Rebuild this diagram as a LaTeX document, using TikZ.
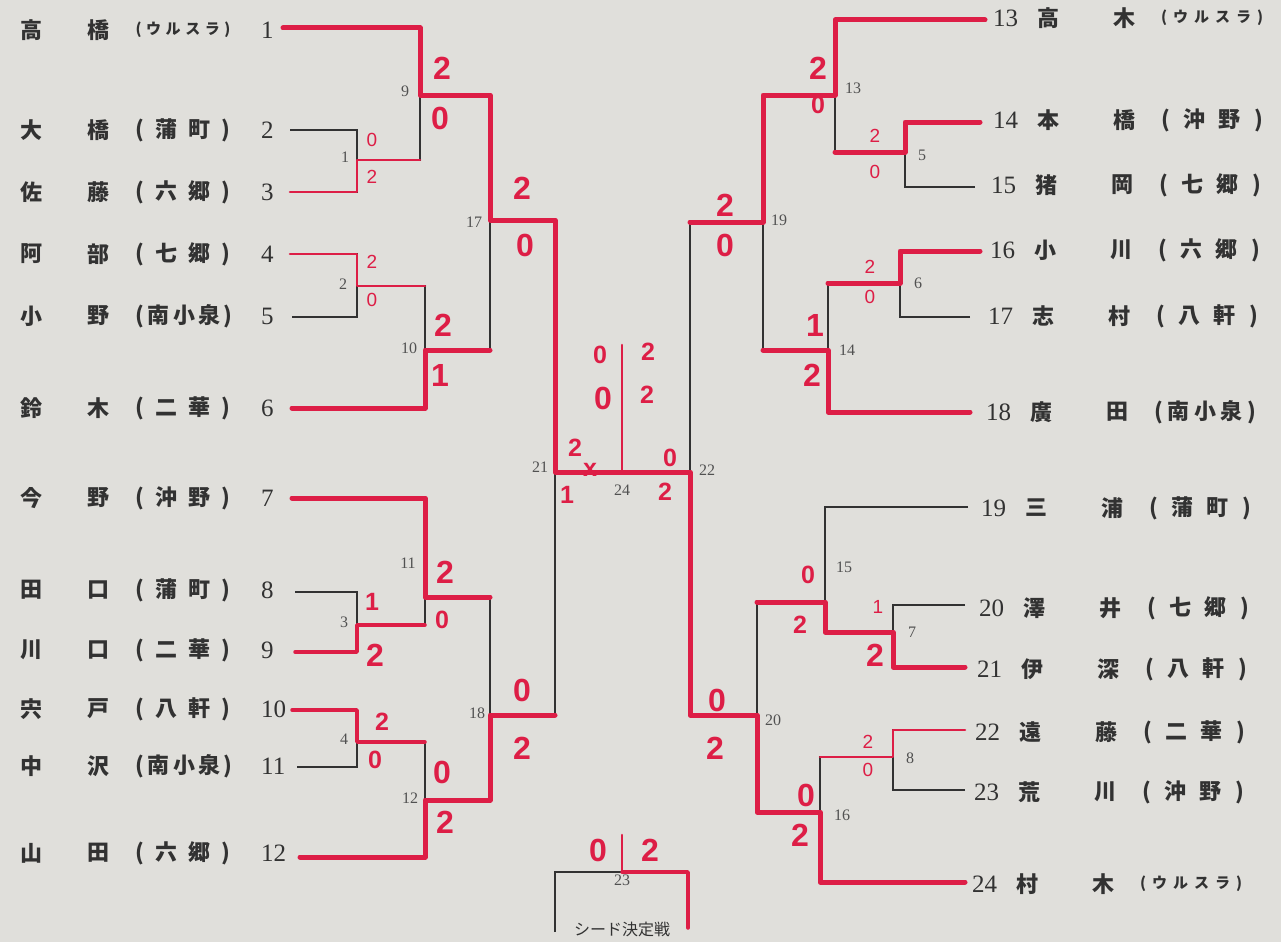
\documentclass[tikz,border=0pt]{standalone}
\usepackage{fontspec}
\setmainfont{Liberation Serif}
\setsansfont{Liberation Sans}
\newfontfamily\jp{Noto Sans CJK JP}
\usepackage{tikz}
\usetikzlibrary{calc}

\definecolor{paper}{RGB}{224,223,219}
\definecolor{ink}{RGB}{50,50,50}
\definecolor{pen}{RGB}{221,30,70}
\newcommand{\kata}{\fontsize{15}{16}\selectfont}

\begin{document}
\begin{tikzpicture}[x=1pt, y=-1pt,
  nm/.style={font=\jp\bfseries\fontsize{22}{24}\selectfont, text=ink, inner sep=0pt},
  pno/.style={font=\fontsize{25}{26}\selectfont, text=ink, inner sep=0pt, anchor=west},
  mno/.style={font=\fontsize{16}{17}\selectfont, text=ink!85, inner sep=0pt},
  wire/.style={draw=ink, line width=1.3pt},
  win/.style={draw=pen, line width=5pt, line join=round, line cap=round},
  wthin/.style={win, line width=2.6pt},
  scbig/.style={text=pen, font=\sffamily\bfseries\fontsize{32}{32}\selectfont, inner sep=0pt},
  scmid/.style={scbig, font=\sffamily\bfseries\fontsize{25}{25}\selectfont},
  scsml/.style={scbig, font=\sffamily\fontsize{19}{19}\selectfont}
]
\useasboundingbox (0,0) rectangle (1281,942);
\fill[paper] (0,0) rectangle (1281,942);

% player line ends
\foreach \n/\x/\y in {1/283/28, 2/290/130, 3/290/192, 4/290/254, 5/292/317, 6/292/408,
  7/292/498, 8/295/592, 9/295/652, 10/292/710, 11/297/767, 12/300/857,
  13/985/20, 14/980/122, 15/975/187, 16/980/251, 17/970/317, 18/970/412,
  19/968/507, 20/965/605, 21/965/667, 22/965/730, 23/965/790, 24/965/882}
  \coordinate (p\n) at (\x,\y);

% match junctions
\foreach \m/\x/\y in {1/357/160, 2/357/286, 3/357/625, 4/357/742, 9/420/95, 10/425/350,
  11/425/597, 12/425/800, 17/490/220, 18/490/715, 21/555/472,
  5/905/152, 6/900/283, 7/893/632, 8/893/757, 13/835/95, 14/828/350,
  15/825/602, 16/820/812, 19/763/222, 20/757/715, 22/690/472, 24/622/472, 23/622/872}
  \coordinate (m\m) at (\x,\y);
\coordinate (q1) at (555,932);
\coordinate (q2) at (688,928);
\coordinate (t24) at (622,345);
\coordinate (t23) at (622,835);

% printed bracket
\foreach \a/\b in {p1/m9, p2/m1, p3/m1, p4/m2, p5/m2, p6/m10, m1/m9, m2/m10, m9/m17,
  m10/m17, m17/m21, p7/m11, p8/m3, p9/m3, p10/m4, p11/m4, p12/m12, m3/m11, m4/m12,
  m11/m18, m12/m18, m18/m21, p13/m13, p14/m5, p15/m5, p16/m6, p17/m6, p18/m14,
  m5/m13, m6/m14, m13/m19, m14/m19, m19/m22, p19/m15, p20/m7, p21/m7, p22/m8,
  p23/m8, p24/m16, m7/m15, m8/m16, m15/m20, m16/m20, m20/m22}
  \draw[wire] (\a) -| (\b);
\draw[wire] (m21) -- (m22);
\draw[wire] (q1) |- (m23) -| (q2);

% winners in red pen
\draw[win] (p1) -| (m9) -| (m17) -| (m21) -- (m24);
\draw[wthin] (p3) -| (m1) -- (m1 -| m9);
\draw[wthin] (p4) -| (m2) -- (m2 -| m10);
\draw[win] (p6) -| (m10) -- (m10 -| m17);
\draw[win] (p7) -| (m11) -- (m11 -| m18);
\draw[win, line width=3.5pt] (p9) -| (m3) -- (m3 -| m11);
\draw[win, line width=3.5pt] (p10) -| (m4) -- (m4 -| m12);
\draw[win] (p12) -| (m12) -| (m18) -- (m18 -| m21);
\draw[win] (p13) -| (m13) -| (m19) -- (m19 -| m22);
\draw[win] (p14) -| (m5) -- (m5 -| m13);
\draw[win] (p16) -| (m6) -- (m6 -| m14);
\draw[win] (p18) -| (m14) -- (m14 -| m19);
\draw[win] (p21) -| (m7) -| (m15) -- (m15 -| m20);
\draw[wthin] (p22) -| (m8) -- (m8 -| m16);
\draw[win] (p24) -| (m16) -| (m20) -| (m22) -- (m24);
\draw[wthin] (m24) -- (t24);
\draw[wthin] (m23) -- (t23);
\draw[win, line width=3.5pt] (m23) -| (q2);

% left entries
\foreach \i/\y/\a/\b/\c in {
  1/30/高/橋/{\kata( ウ ル ス ラ )},
  2/130/大/橋/{( 蒲 町 )},
  3/192/佐/藤/{( 六 郷 )},
  4/254/阿/部/{( 七 郷 )},
  5/316/小/野/{( 南 小 泉 )},
  6/408/鈴/木/{( 二 華 )},
  7/498/今/野/{( 沖 野 )},
  8/590/田/口/{( 蒲 町 )},
  9/650/川/口/{( 二 華 )},
  10/709/宍/戸/{( 八 軒 )},
  11/766/中/沢/{( 南 小 泉 )},
  12/853/山/田/{( 六 郷 )}}
{
  \node[nm] (a\i) at (31,\y) {\a};
  \node[nm] (b\i) at (98,\y) {\b};
  \node[nm] (c\i) at (183,\y) {\makebox[95pt][s]{\c}};
  \node[pno] (k\i) at (261,\y) {\i};
}

% right entries
\foreach \i/\y/\dx/\a/\b/\c in {
  13/18/0/高/木/{\kata( ウ ル ス ラ )},
  14/120/0/本/橋/{( 沖 野 )},
  15/185/-2/猪/岡/{( 七 郷 )},
  16/250/-3/小/川/{( 六 郷 )},
  17/316/-5/志/村/{( 八 軒 )},
  18/412/-7/廣/田/{( 南 小 泉 )},
  19/508/-12/三/浦/{( 蒲 町 )},
  20/608/-14/澤/井/{( 七 郷 )},
  21/669/-16/伊/深/{( 八 軒 )},
  22/732/-18/遠/藤/{( 二 華 )},
  23/792/-19/荒/川/{( 沖 野 )},
  24/884/-21/村/木/{\kata( ウ ル ス ラ )}}
{
  \node[pno] (k\i) at ({993+\dx},\y) {\i};
  \node[nm] (a\i) at ({1048+\dx},\y) {\a};
  \node[nm] (b\i) at ({1124+\dx},\y) {\b};
  \node[nm] (c\i) at ({1212+\dx},\y) {\makebox[102pt][s]{\c}};
}

% match numbers
\foreach \m/\x/\y in {1/345/157, 2/343/284, 3/344/622, 4/344/739, 9/405/91, 10/409/348,
  11/408/563, 12/410/798, 17/474/222, 18/477/713, 21/540/467, 24/622/490, 22/707/470,
  13/853/88, 5/922/155, 19/779/220, 6/918/283, 14/847/350, 15/844/567, 7/912/632,
  20/773/720, 8/910/758, 16/842/815, 23/622/880}
  \node[mno] (l\m) at (\x,\y) {\m};

% scores
\foreach \x/\y/\t/\s [count=\k] in {442/68/2/scbig, 440/118/0/scbig, 372/140/0/scsml,
  372/177/2/scsml, 372/262/2/scsml, 372/300/0/scsml, 443/325/2/scbig, 440/375/1/scbig,
  522/188/2/scbig, 525/245/0/scbig, 372/602/1/scmid, 375/655/2/scbig, 445/572/2/scbig,
  442/620/0/scmid, 382/722/2/scmid, 375/760/0/scmid, 442/772/0/scbig, 445/822/2/scbig,
  522/690/0/scbig, 522/748/2/scbig, 575/448/2/scmid, 567/495/1/scmid, 590/470/x/scmid,
  600/355/0/scmid, 648/352/2/scmid, 603/398/0/scbig, 647/395/2/scmid, 670/458/0/scmid,
  665/492/2/scmid, 725/205/2/scbig, 725/245/0/scbig, 818/68/2/scbig, 818/105/0/scmid,
  875/136/2/scsml, 875/172/0/scsml, 870/267/2/scsml, 870/297/0/scsml, 815/325/1/scbig,
  812/375/2/scbig, 808/575/0/scmid, 800/625/2/scmid, 878/607/1/scsml, 875/655/2/scbig,
  717/700/0/scbig, 715/748/2/scbig, 868/742/2/scsml, 868/770/0/scsml, 806/795/0/scbig,
  800/835/2/scbig, 598/850/0/scbig, 650/850/2/scbig}
  \node[\s] (s\k) at (\x,\y) {\t};

\node[nm, font=\jp\fontsize{16}{17}\selectfont] (seed) at (622,929) {シード決定戦};
\end{tikzpicture}
\end{document}
